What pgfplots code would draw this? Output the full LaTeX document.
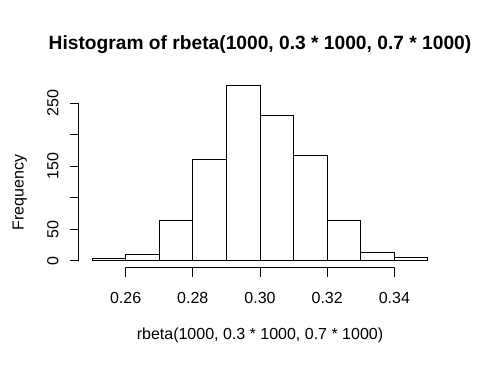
\documentclass[border=0pt]{standalone}
\usepackage{pgfplots}
\pgfplotsset{compat=1.18}
\usepackage{fontspec}
\setmainfont{Liberation Sans}
\begin{document}
\begin{tikzpicture}[x=1pt,y=1pt]
\path (0,0) rectangle (482,366);
\begin{axis}[at={(78.6pt,98pt)}, anchor=south west, scale only axis,
  width=362.8pt, height=189.4pt,
  xmin=0.246, xmax=0.354, ymin=-11.12, ymax=289.12,
  hide axis, clip=false]
\addplot[ybar interval, fill=white, draw=black, line width=1pt] coordinates {
(0.25,4) (0.26,11) (0.27,64) (0.28,161) (0.29,278) (0.30,231) (0.31,168) (0.32,64) (0.33,14) (0.34,5) (0.35,5)};
% x axis
\draw[line width=1pt, line cap=round] (axis cs:0.26,-11.12) -- (axis cs:0.34,-11.12);
\pgfplotsinvokeforeach{0.26,0.28,0.30,0.32,0.34}{
  \draw[line width=1pt] (axis cs:#1,-11.12) -- ++(0pt,-9pt);
}
\node[font=\fontsize{16}{19}\selectfont, anchor=base, yshift=-36pt] at (axis cs:0.26,-11.12) {0.26};
\node[font=\fontsize{16}{19}\selectfont, anchor=base, yshift=-36pt] at (axis cs:0.28,-11.12) {0.28};
\node[font=\fontsize{16}{19}\selectfont, anchor=base, yshift=-36pt] at (axis cs:0.30,-11.12) {0.30};
\node[font=\fontsize{16}{19}\selectfont, anchor=base, yshift=-36pt] at (axis cs:0.32,-11.12) {0.32};
\node[font=\fontsize{16}{19}\selectfont, anchor=base, yshift=-36pt] at (axis cs:0.34,-11.12) {0.34};
% y axis
\draw[line width=1pt, line cap=round] (axis cs:0.246,0) -- (axis cs:0.246,250);
\pgfplotsinvokeforeach{0,50,100,150,200,250}{
  \draw[line width=1pt] (axis cs:0.246,#1) -- ++(-9pt,0pt);
}
\node[font=\fontsize{16}{19}\selectfont, rotate=90, anchor=base] at ([xshift=-20.3pt]axis cs:0.246,0) {0};
\node[font=\fontsize{16}{19}\selectfont, rotate=90, anchor=base] at ([xshift=-20.3pt]axis cs:0.246,50) {50};
\node[font=\fontsize{16}{19}\selectfont, rotate=90, anchor=base] at ([xshift=-20.3pt]axis cs:0.246,150) {150};
\node[font=\fontsize{16}{19}\selectfont, rotate=90, anchor=base] at ([xshift=-20.3pt]axis cs:0.246,250) {250};
\end{axis}
\node[font=\bfseries\fontsize{19.2}{23}\selectfont, anchor=base] at (260,316.5) {Histogram of rbeta(1000, 0.3 * 1000, 0.7 * 1000)};
\node[font=\fontsize{16}{19}\selectfont, anchor=base] at (260,26) {rbeta(1000, 0.3 * 1000, 0.7 * 1000)};
\node[font=\fontsize{16}{19}\selectfont, rotate=90, anchor=base] at (23.5,173.3) {Frequency};
\end{tikzpicture}
\end{document}
